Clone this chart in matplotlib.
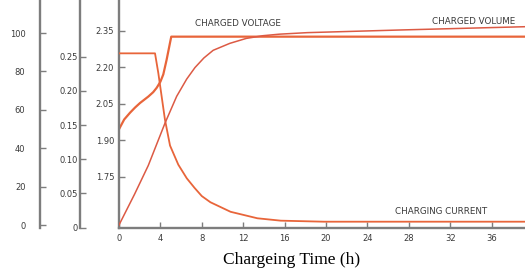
import matplotlib
matplotlib.use("Agg")
import matplotlib.pyplot as plt

# ---- data ----
voltage_h = [0, 0.5, 1.07, 1.55, 2.04, 2.83, 3.3, 3.64, 4.0, 4.28, 4.6, 4.93, 5.05, 39.3]
voltage_v = [1.945, 1.985, 2.013, 2.034, 2.053, 2.079, 2.097, 2.115, 2.14, 2.17, 2.23, 2.30, 2.325, 2.325]

current_h = [0, 3.48, 3.8, 4.12, 4.44, 4.93, 5.73, 6.55, 7.3, 8.0, 8.83, 10.78, 13.37, 15.63, 19.8, 39.3]
current_c = [0.255, 0.255, 0.226, 0.192, 0.158, 0.120, 0.092, 0.072, 0.058, 0.046, 0.037,
             0.023, 0.0135, 0.010, 0.0085, 0.0085]

volume_h = [0, 1.5, 2.83, 4.44, 5.57, 6.54, 7.34, 8.2, 9.1, 10.7, 12.3, 13.9, 15.5, 18.2, 27.3, 39.3]
volume_p = [0, 16, 31, 53, 67, 76, 82, 87, 91, 94.6, 97.2, 98.6, 99.4, 100.2, 101.6, 103.3]

x_ticks = [0, 4, 8, 12, 16, 20, 24, 28, 32, 36]
voltage_ticks = [1.75, 1.90, 2.05, 2.20, 2.35]
voltage_labels = ["1.75", "1.90", "2.05", "2.20", "2.35"]
current_ticks = [0, 0.05, 0.10, 0.15, 0.20, 0.25]
current_labels = ["0", "0.05", "0.10", "0.15", "0.20", "0.25"]
volume_ticks = [0, 20, 40, 60, 80, 100]
volume_labels = ["0", "20", "40", "60", "80", "100"]

x_label = "Chargeing Time (h)"
label_voltage = "CHARGED VOLTAGE"
label_volume = "CHARGED VOLUME"
label_current = "CHARGING CURRENT"

# ---- style ----
W, H = 525, 273
spine_col = "#7d7d7d"
txt_col = "#3a3a3a"
line_col = "#e8653a"

fig = plt.figure(figsize=(W / 100, H / 100), dpi=100)
left_px, bottom_px = 119, 227.5
ax = fig.add_axes([left_px / W, (H - bottom_px) / H, (W - left_px) / W, bottom_px / H])

def style_axis(a):
    a.patch.set_visible(False)
    for s in ["top", "right", "bottom", "left"]:
        a.spines[s].set_visible(False)

# main (voltage) axis
ax.set_xlim(0, 39.23)
ax.set_ylim(1.5416, 2.4755)
for s in ["top", "right"]:
    ax.spines[s].set_visible(False)
for s in ["left", "bottom"]:
    ax.spines[s].set_color(spine_col)
    ax.spines[s].set_linewidth(1.7)
ax.set_xticks(x_ticks)
ax.set_xticklabels([str(t) for t in x_ticks])
ax.set_yticks(voltage_ticks)
ax.set_yticklabels(voltage_labels)
ax.tick_params(axis="both", direction="in", length=4, width=1, color=spine_col,
               labelsize=6, labelcolor=txt_col)
ax.tick_params(axis="x", pad=4.5)
ax.tick_params(axis="y", pad=3.5)

# current axis
axc = ax.twinx()
style_axis(axc)
axc.set_ylim(0.0, 0.3331)
axc.spines["left"].set_visible(True)
axc.spines["left"].set_position(("axes", -(left_px - 80) / (W - left_px)))
axc.spines["left"].set_color(spine_col)
axc.spines["left"].set_linewidth(1.7)
axc.yaxis.set_ticks_position("left")
axc.yaxis.set_label_position("left")
axc.set_yticks(current_ticks)
axc.set_yticklabels(current_labels)
axc.tick_params(axis="y", direction="in", length=4, width=1, color=spine_col,
                labelsize=6, labelcolor=txt_col, pad=1.5)

# volume axis
axv = ax.twinx()
style_axis(axv)
axv.set_ylim(-1.3, 117.2)
axv.spines["left"].set_visible(True)
axv.spines["left"].set_position(("axes", -(left_px - 40) / (W - left_px)))
axv.spines["left"].set_color(spine_col)
axv.spines["left"].set_linewidth(1.7)
axv.yaxis.set_ticks_position("left")
axv.yaxis.set_label_position("left")
axv.set_yticks(volume_ticks)
axv.set_yticklabels(volume_labels)
axv.tick_params(axis="y", direction="in", length=4, width=1, color=spine_col,
                labelsize=6, labelcolor=txt_col, pad=10.5)

# curves
ax.plot(voltage_h, voltage_v, color=line_col, lw=1.6, solid_joinstyle="round")
axc.plot(current_h, current_c, color=line_col, lw=1.3, solid_joinstyle="round")
axv.plot(volume_h, volume_p, color="#dc5a44", lw=1.1, solid_joinstyle="round")

# annotations
ax.text(11.5, 2.381, label_voltage, ha="center", va="center", fontsize=6.3, color=txt_col)
ax.text(34.3, 2.389, label_volume, ha="center", va="center", fontsize=6.3, color=txt_col)
ax.text(31.1, 1.6085, label_current, ha="center", va="center", fontsize=6.3, color=txt_col)

fig.text(291.5 / W, (H - 260) / H, x_label, ha="center", va="center",
         fontsize=12.5, family="Liberation Serif", color="black")

fig.savefig("out.png", dpi=100)
